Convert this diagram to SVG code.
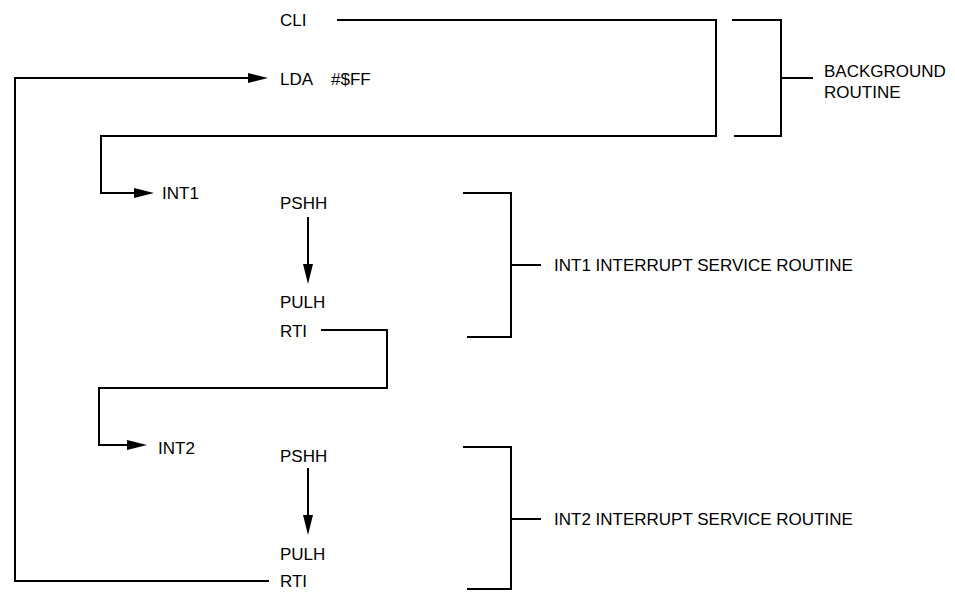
<svg xmlns="http://www.w3.org/2000/svg" width="955" height="592" viewBox="0 0 955 592">
<style>
text{font-family:"Liberation Sans",Arial,Helvetica,sans-serif;font-size:17px;fill:#000}
.ln{fill:none;stroke:#000;stroke-width:2;stroke-linejoin:miter}
</style>
<defs>
<marker id="ah" viewBox="0 0 20 11" markerWidth="20" markerHeight="11" refX="5" refY="5.5" orient="auto" markerUnits="userSpaceOnUse">
<path d="M0,0.5 L20,5.5 L0,10.5 z" fill="#000"/>
</marker>
</defs>
<rect width="955" height="592" fill="#fff"/>
<g id="connectors">
<path class="ln" d="M337,20 H716 V136 H101 V193 H139" marker-end="url(#ah)"/>
<path class="ln" d="M321,330 H387 V388 H99 V445 H132" marker-end="url(#ah)"/>
<path class="ln" d="M269,581 H15 V78 H253" marker-end="url(#ah)"/>
<path class="ln" d="M308,217 V269" marker-end="url(#ah)"/>
<path class="ln" d="M308,468 V520" marker-end="url(#ah)"/>
</g>
<g id="brackets">
<path class="ln" d="M732,20 H781 V136 H734 M781,78 H813"/>
<path class="ln" d="M463,193 H511 V337 H467 M511,265 H541"/>
<path class="ln" d="M463,447 H511 V589 H467 M511,519 H541"/>
</g>
<g id="cli"><text x="280" y="26">CLI</text></g>
<g id="lda"><text x="280" y="85">LDA<tspan x="331">#$FF</tspan></text></g>
<g id="int1"><text x="162" y="199">INT1</text></g>
<g id="pshh1"><text x="280" y="209">PSHH</text></g>
<g id="pulh1"><text x="280" y="308">PULH</text></g>
<g id="rti1"><text x="280" y="337">RTI</text></g>
<g id="int2"><text x="158" y="454">INT2</text></g>
<g id="pshh2"><text x="280" y="462">PSHH</text></g>
<g id="pulh2"><text x="280" y="560">PULH</text></g>
<g id="rti2"><text x="280" y="587">RTI</text></g>
<g id="background-label"><text x="824" y="77">BACKGROUND</text><text x="824" y="98">ROUTINE</text></g>
<g id="int1-isr-label"><text x="554" y="271">INT1 INTERRUPT SERVICE ROUTINE</text></g>
<g id="int2-isr-label"><text x="554" y="525">INT2 INTERRUPT SERVICE ROUTINE</text></g>
</svg>
